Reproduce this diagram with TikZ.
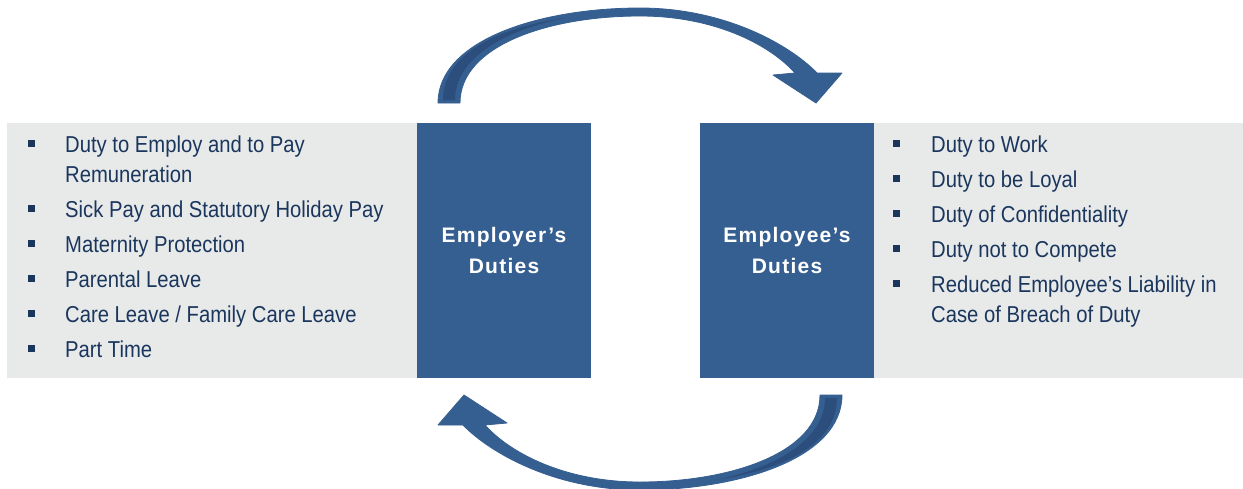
\documentclass[tikz,border=0pt]{standalone}
\usepackage{fontspec}
\setmainfont{Liberation Sans}
\newfontfamily\listfont[FakeStretch=0.88]{Liberation Sans}
\newfontfamily\headfont[LetterSpace=6]{Liberation Sans}

\definecolor{dutyblue}{HTML}{365F91}
\definecolor{dutygray}{HTML}{E8EAEA}
\definecolor{dutynavy}{HTML}{1B365D}
\definecolor{arrowshade}{HTML}{2C4E7C}

\tikzset{
  panel/.style={fill=dutygray, draw=none, inner sep=0pt},
  dutybox/.style={fill=dutyblue, draw=none, inner sep=0pt, align=center, text=white,
    font=\headfont\bfseries\fontsize{21}{31}\selectfont},
  item/.style={anchor=base west, inner sep=0pt, align=left, text=dutynavy,
    font=\listfont\fontsize{23}{30}\selectfont},
  sqbullet/.style={fill=dutynavy, minimum size=7pt, inner sep=0pt},
  turnarrow/.style={fill=dutyblue, draw=dutyblue, line width=0.8pt, line join=round}
}

\begin{document}
\begin{tikzpicture}[x=1pt,y=-1pt]
\useasboundingbox (0,0) rectangle (1243,488);

% Duty boxes and the grey lists behind them
\node[dutybox, minimum width=174pt, minimum height=255pt] (employer) at (504,250.5) {Employer’s\\Duties};
\node[dutybox, minimum width=174pt, minimum height=255pt] (employee) at (787,250.5) {Employee’s\\Duties};
\node[panel, anchor=north east, minimum width=410pt, minimum height=255pt] (erpanel) at (employer.north west) {};
\node[panel, anchor=north west, minimum width=369pt, minimum height=255pt] (eepanel) at (employee.north east) {};

% Turning arrows, the lower one is the upper one turned round
\foreach \a in {0,180} {
  \begin{scope}[rotate around={\a:(640,249)}]
    \fill[turnarrow] (438,103) .. controls (438,40) and (540,8) .. (640,8)
      .. controls (725,8) and (790,45) .. (817,73) -- (842,73) -- (816,103) -- (773,75) -- (795,73)
      .. controls (770,45) and (715,16) .. (640,16)
      .. controls (550,16) and (460,45) .. (460,103) -- cycle;
    \fill[arrowshade] (443,100) .. controls (443,55) and (495,28) .. (565,18)
      .. controls (505,30) and (455,58) .. (455,100) -- cycle;
  \end{scope}
}

% Employer side (two-line items sit on their last line)
\node[item] (er1) at (65,182) {Duty to Employ and to Pay\\Remuneration};
\node[item] (er2) at (65,217) {Sick Pay and Statutory Holiday Pay};
\node[item] (er3) at (65,252) {Maternity Protection};
\node[item] (er4) at (65,287) {Parental Leave};
\node[item] (er5) at (65,322) {Care Leave / Family Care Leave};
\node[item] (er6) at (65,357) {Part Time};
\foreach \y [count=\i] in {152,217,252,287,322,357}
  \node[sqbullet] (erb\i) at (31.5,\y-8.5) {};

% Employee side
\node[item] (ee1) at (931,152) {Duty to Work};
\node[item] (ee2) at (931,187) {Duty to be Loyal};
\node[item] (ee3) at (931,222) {Duty of Confidentiality};
\node[item] (ee4) at (931,257) {Duty not to Compete};
\node[item] (ee5) at (931,322) {Reduced Employee’s Liability in\\Case of Breach of Duty};
\foreach \y [count=\i] in {152,187,222,257,292}
  \node[sqbullet] (eeb\i) at (896.5,\y-8.5) {};
\end{tikzpicture}
\end{document}
